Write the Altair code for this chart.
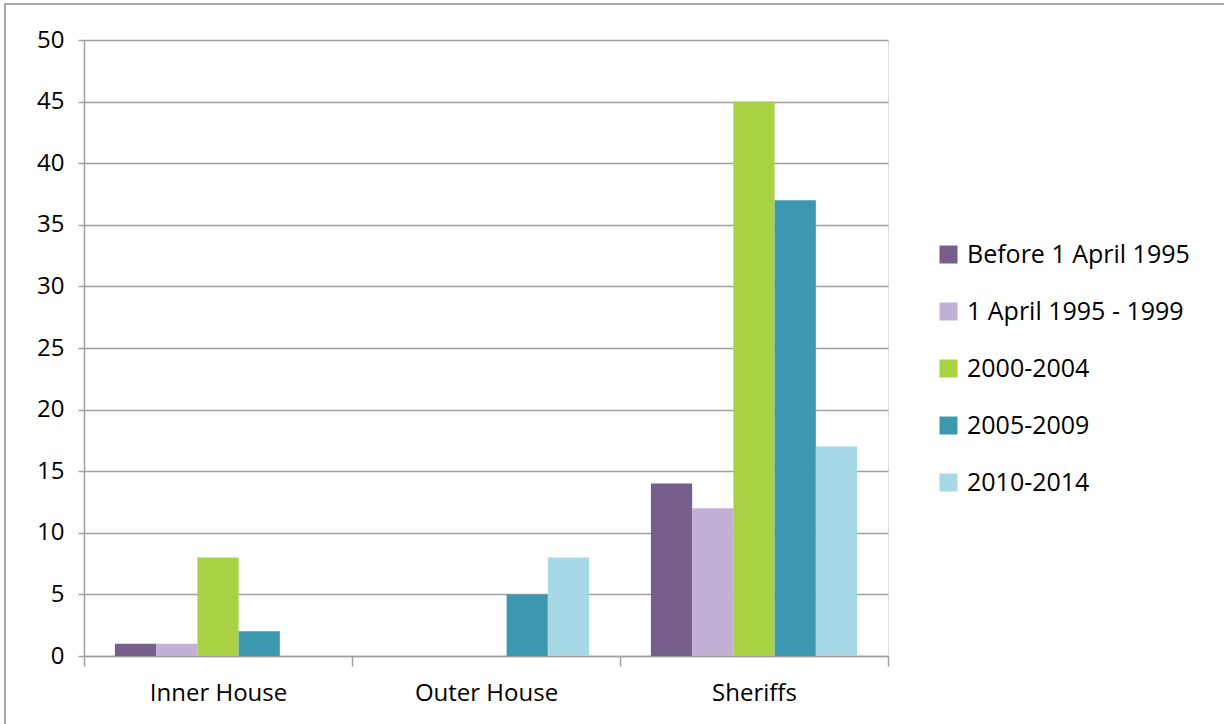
import altair as alt
import pandas as pd

courts = ["Inner House", "Outer House", "Sheriffs"]
periods = ["Before 1 April 1995", "1 April 1995 - 1999", "2000-2004", "2005-2009", "2010-2014"]
colors = ["#775F8D", "#C1B2D5", "#A8D144", "#3C98AE", "#A6D8E5"]
inner_house = [1, 1, 8, 2, 0]
outer_house = [0, 0, 0, 5, 8]
sheriffs = [14, 12, 45, 37, 17]

rows = []
for court, vals in zip(courts, [inner_house, outer_house, sheriffs]):
    for p, v in zip(periods, vals):
        rows.append({"court": court, "period": p, "value": v})
df = pd.DataFrame(rows)

FONT = "Open Sans"
FS = 24
LFS = 25

bars = alt.Chart(df).mark_bar().encode(
    x=alt.X("court:N", sort=courts, title=None,
            scale=alt.Scale(paddingInner=0, paddingOuter=0),
            axis=alt.Axis(labelAngle=0, tickBand="extent", grid=False,
                          domainColor="#A0A0A0", tickColor="#A0A0A0", tickSize=10,
                          domainWidth=1.5, tickWidth=1.5,
                          labelFontSize=FS, labelPadding=15, labelColor="#000000",
                          labelFont=FONT)),
    xOffset=alt.XOffset("period:N", sort=periods,
                        scale=alt.Scale(paddingInner=0, paddingOuter=0.75)),
    y=alt.Y("value:Q", title=None,
            scale=alt.Scale(domain=[0, 50], nice=False),
            axis=alt.Axis(values=list(range(0, 51, 5)), grid=True, gridColor="#A0A0A0",
                          gridWidth=1.5, domainColor="#A0A0A0", tickColor="#A0A0A0",
                          domainWidth=1.5, tickWidth=1.5,
                          tickSize=6, labelFontSize=FS, labelPadding=14,
                          labelColor="#000000", labelFont=FONT)),
    color=alt.Color("period:N", sort=periods,
                    scale=alt.Scale(domain=periods, range=colors),
                    legend=alt.Legend(title=None, orient="none", legendX=852, legendY=202,
                                      symbolType="square", symbolSize=324,
                                      symbolStrokeWidth=0, labelFontSize=LFS,
                                      labelFont=FONT, labelColor="#000000",
                                      labelLimit=400,
                                      rowPadding=31, labelOffset=6)),
)

border = alt.Chart(pd.DataFrame({"a": [0]})).mark_rect(
    fill=None, stroke="#8C8C8C", strokeWidth=1.5
).encode(x=alt.value(-79), x2=alt.value(1200), y=alt.value(-36), y2=alt.value(720))

chart = alt.layer(border, bars).properties(
    width=804, height=616,
    padding={"left": 84, "top": 40, "right": 336, "bottom": 68},
    autosize=alt.AutoSizeParams(type="none"),
).configure_view(stroke=None).configure(background="#FFFFFF")

chart.save("out.html", embed_options={"renderer": "svg", "actions": False})
